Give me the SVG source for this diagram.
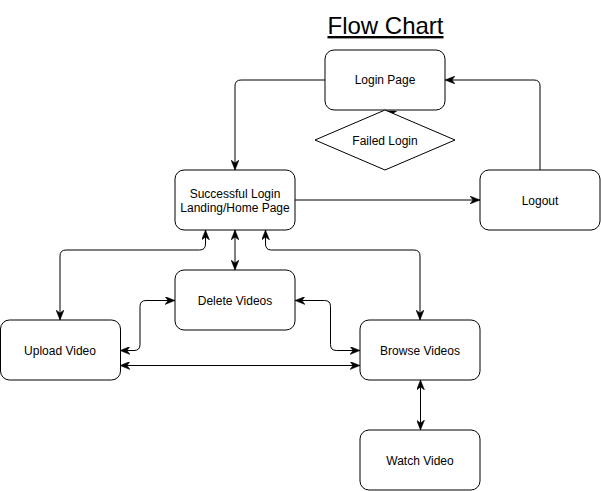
<svg xmlns="http://www.w3.org/2000/svg" width="601" height="491" viewBox="0 0 601 491">
<defs>
<style>
.box{fill:#fff;stroke:#000;stroke-width:1}
.lbl{font-family:"Liberation Sans",Arial,Helvetica,sans-serif;font-size:12px;fill:#000;text-anchor:middle}
.edge{fill:none;stroke:#000;stroke-width:1}
.title{font-family:"Liberation Sans",Arial,Helvetica,sans-serif;font-size:24px;fill:#000;text-anchor:middle;text-decoration:underline}
</style>
<marker id="arr" viewBox="0 0 10 8" refX="10" refY="4" markerWidth="10" markerHeight="8" markerUnits="userSpaceOnUse" orient="auto-start-reverse">
<path d="M0,0 L10,4 L0,8 L3,4 Z" fill="#000" stroke="#000" stroke-width="0.5"/>
</marker>
</defs>
<rect width="601" height="491" fill="#fff"/>
<text class="title" x="385.5" y="34">Flow Chart</text>

<g id="connectors">
<path class="edge" d="M325,80 H241 Q235,80 235,86 V170" marker-end="url(#arr)"/>
<path class="edge" d="M540,170 V86 Q540,80 534,80 H445" marker-end="url(#arr)"/>
<path class="edge" d="M394.5,114.5 L386,111" marker-end="url(#arr)"/>
<path class="edge" d="M295,200 H480" marker-end="url(#arr)"/>
<path class="edge" d="M205.5,230 V244 Q205.5,250 199.5,250 H66 Q60,250 60,256 V320" marker-start="url(#arr)" marker-end="url(#arr)"/>
<path class="edge" d="M235,230 V270" marker-start="url(#arr)" marker-end="url(#arr)"/>
<path class="edge" d="M265.5,230 V244 Q265.5,250 271.5,250 H414 Q420,250 420,256 V320" marker-start="url(#arr)" marker-end="url(#arr)"/>
<path class="edge" d="M175,300.5 H146 Q140,300.5 140,306.5 V344.5 Q140,350.5 134,350.5 H120" marker-start="url(#arr)" marker-end="url(#arr)"/>
<path class="edge" d="M295,300.5 H324.5 Q330.5,300.5 330.5,306.5 V344.5 Q330.5,350.5 336.5,350.5 H360" marker-start="url(#arr)" marker-end="url(#arr)"/>
<path class="edge" d="M120,365.5 H360" marker-start="url(#arr)" marker-end="url(#arr)"/>
<path class="edge" d="M420.5,380 V430" marker-start="url(#arr)" marker-end="url(#arr)"/>
</g>

<g id="login-page">
<rect class="box" x="325" y="50" width="120" height="60" rx="9"/>
<text class="lbl" x="385" y="84">Login Page</text>
</g>
<g id="failed-login">
<path class="box" d="M315,140 L385,110 L455,140 L385,170 Z" stroke-linejoin="round"/>
<text class="lbl" x="385" y="145">Failed Login</text>
</g>
<g id="successful-login">
<rect class="box" x="175" y="170" width="120" height="60" rx="9"/>
<text class="lbl" x="235" y="198">Successful Login</text>
<text class="lbl" x="235" y="212">Landing/Home Page</text>
</g>
<g id="logout">
<rect class="box" x="480" y="170" width="120" height="60" rx="9"/>
<text class="lbl" x="540" y="205">Logout</text>
</g>
<g id="delete-videos">
<rect class="box" x="175" y="270" width="120" height="60" rx="9"/>
<text class="lbl" x="235" y="305">Delete Videos</text>
</g>
<g id="upload-video">
<rect class="box" x="0.5" y="320" width="120" height="60" rx="9"/>
<text class="lbl" x="60" y="355">Upload Video</text>
</g>
<g id="browse-videos">
<rect class="box" x="360" y="320" width="120" height="60" rx="9"/>
<text class="lbl" x="420" y="355">Browse Videos</text>
</g>
<g id="watch-video">
<rect class="box" x="360" y="430" width="120" height="60" rx="9"/>
<text class="lbl" x="420" y="465">Watch Video</text>
</g>
</svg>
